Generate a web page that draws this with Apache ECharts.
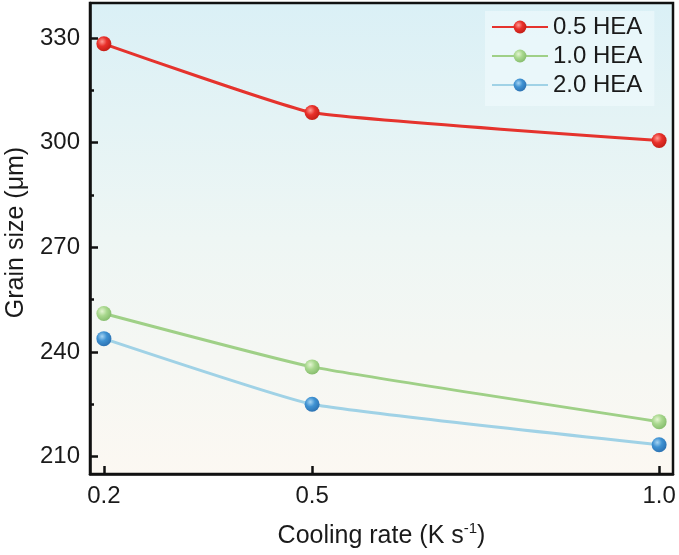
<!DOCTYPE html>
<html>
<head>
<meta charset="utf-8">
<script src="https://cdn.jsdelivr.net/npm/echarts@6/dist/echarts.min.js"></script>
<style>html,body{margin:0;padding:0;background:#fff;}#c{width:679px;height:555px;}</style>
</head>
<body>
<div id="c"></div>
<script>
const coolingRates = [0.2, 0.5, 1.0];
const hea05 = [328.3, 308.6, 300.6];
const hea10 = [251.0, 235.7, 220.0];
const hea20 = [243.8, 225.0, 213.4];
const seriesNames = ['0.5 HEA', '1.0 HEA', '2.0 HEA'];
const xTicks = [0.2, 0.5, 1.0];
const yTicks = [210, 240, 270, 300, 330];
const yMinorTicks = [225, 255, 285, 315];

const FONT = "'Liberation Sans', Arial, sans-serif";
function ball(hi, mid, lo) {
  return { type: 'radial', x: 0.38, y: 0.35, r: 0.7,
    colorStops: [{offset: 0, color: hi}, {offset: 0.45, color: mid}, {offset: 1, color: lo}] };
}
const styles = [
  { line: '#e5332d', ball: ball('#ff9c94', '#e8302a', '#c01c14') },
  { line: '#9fd087', ball: ball('#e4f5d2', '#a9d88e', '#84bb6b') },
  { line: '#a0d2e6', ball: ball('#a6d4f2', '#3f92d2', '#2b70b0') }
];
const dataSets = [hea05, hea10, hea20];

const chart = echarts.init(document.getElementById('c'), null, { renderer: 'canvas' });
chart.setOption({
  backgroundColor: '#ffffff',
  animation: false,
  textStyle: { fontFamily: FONT },
  grid: {
    left: 90, right: 6, top: 3, bottom: 81,
    outerBoundsMode: 'none', containLabel: false,
    show: true, borderColor: '#111', borderWidth: 2.5,
    backgroundColor: { type: 'linear', x: 0, y: 0, x2: 0, y2: 1,
      colorStops: [{offset: 0, color: '#daf0f6'}, {offset: 0.5, color: '#eef6f4'}, {offset: 1, color: '#fcf8f2'}] }
  },
  legend: {
    orient: 'vertical', left: 485, top: 11,
    itemWidth: 56, itemHeight: 16, itemGap: 3,
    backgroundColor: 'rgba(242,251,253,0.55)',
    padding: [3, 12, 8, 6],
    textStyle: { fontSize: 24, color: '#1a1a1a', fontFamily: FONT, lineHeight: 26 },
    data: seriesNames
  },
  xAxis: {
    type: 'value', min: 0.18, max: 1.02,
    name: '{a|Cooling rate (K s}{s|-1}{a|)}',
    nameLocation: 'middle', nameGap: 47,
    nameTextStyle: {
      rich: {
        a: { fontSize: 25, color: '#1a1a1a', fontFamily: FONT, lineHeight: 30 },
        s: { fontSize: 15, color: '#1a1a1a', fontFamily: FONT, verticalAlign: 'top', lineHeight: 30, padding: [0, 0, 10, 0] }
      }
    },
    axisLine: { show: true, lineStyle: { color: '#111', width: 2.5 } },
    axisTick: { show: true, inside: true, length: 8, lineStyle: { color: '#111', width: 2.5 }, customValues: xTicks },
    axisLabel: { fontSize: 24, color: '#1a1a1a', margin: 10, customValues: xTicks, formatter: v => v.toFixed(1) },
    splitLine: { show: false }
  },
  yAxis: [{
    type: 'value', min: 205, max: 340,
    name: 'Grain size (μm)', nameLocation: 'middle', nameGap: 57, nameRotate: 90,
    nameTextStyle: { fontSize: 25, color: '#1a1a1a', fontFamily: FONT, padding: [0, 0, 0, 12] },
    axisLine: { show: true, lineStyle: { color: '#111', width: 2.5 } },
    axisTick: { show: true, inside: true, length: 8, lineStyle: { color: '#111', width: 2.5 }, customValues: yTicks },
    axisLabel: { fontSize: 24, color: '#1a1a1a', margin: 10, customValues: yTicks },
    splitLine: { show: false }
  }, {
    type: 'value', min: 205, max: 340, position: 'left',
    axisLine: { show: false },
    axisTick: { show: true, inside: true, length: 4, lineStyle: { color: '#111', width: 2.5 }, customValues: yMinorTicks },
    axisLabel: { show: false },
    splitLine: { show: false }
  }],
  series: seriesNames.map((n, i) => ({
    name: n, type: 'line', smooth: 0.12,
    data: coolingRates.map((x, j) => [x, dataSets[i][j]]),
    symbol: 'circle', symbolSize: 15,
    lineStyle: { color: styles[i].line, width: 3 },
    itemStyle: { color: styles[i].ball, borderWidth: 0 },
    z: 3 - i
  }))
});
</script>
</body>
</html>
